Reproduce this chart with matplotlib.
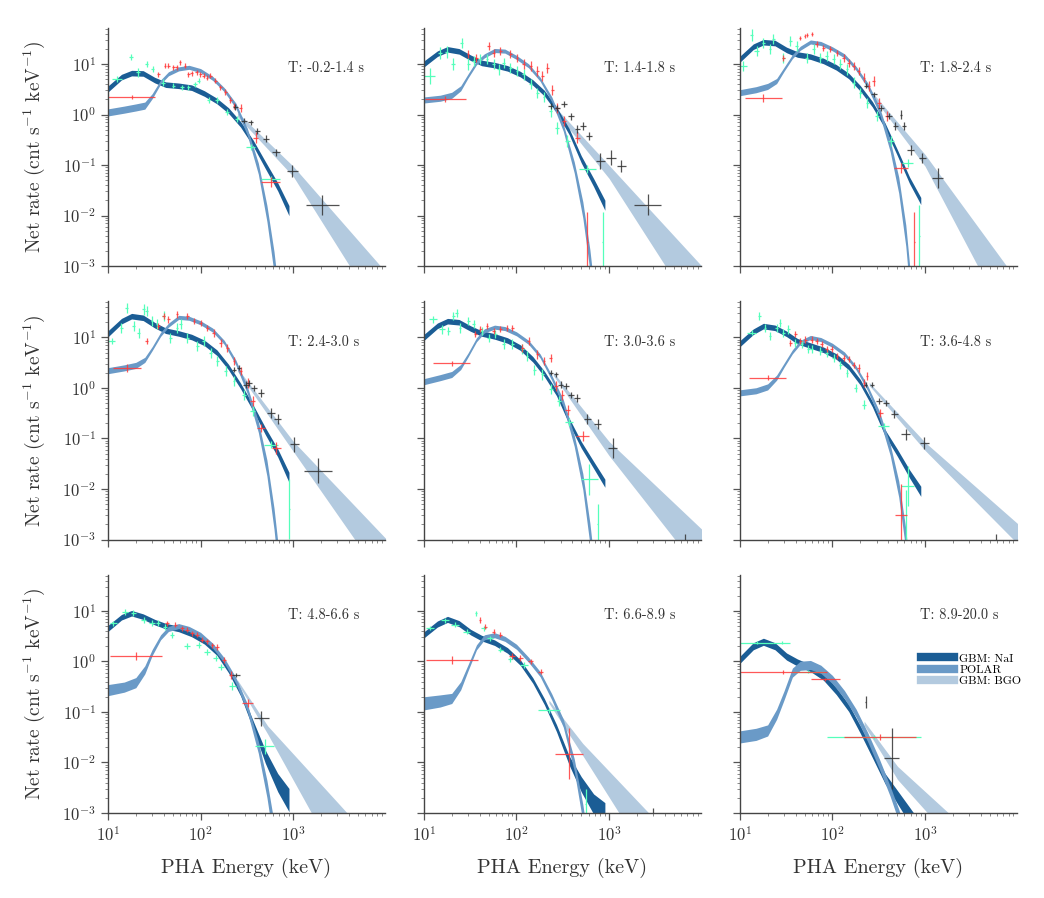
import numpy as np
import matplotlib
matplotlib.use('Agg')
import matplotlib.pyplot as plt
from matplotlib.lines import Line2D

plt.rcParams['font.family'] = 'serif'
plt.rcParams['font.serif'] = ['cmr10']
plt.rcParams['mathtext.fontset'] = 'cm'
plt.rcParams['axes.unicode_minus'] = False
plt.rcParams['axes.formatter.use_mathtext'] = True

# time intervals of the nine spectra
T_LABELS = ['T: -0.2-1.4 s', 'T: 1.4-1.8 s', 'T: 1.8-2.4 s',
            'T: 2.4-3.0 s', 'T: 3.0-3.6 s', 'T: 3.6-4.8 s',
            'T: 4.8-6.6 s', 'T: 6.6-8.9 s', 'T: 8.9-20.0 s']

# model bands: middle value (cnt/s/keV) and half width (dex)
E_NAI = [10, 14, 18, 24, 32, 42, 58, 80, 110, 150, 200, 270, 370, 500, 680, 900]
NAI_MID = [
    [3.2, 5.5, 6.6, 6.5, 4.8, 3.9, 3.7, 3.4, 2.6, 1.85, 1.2, 0.64, 0.27, 0.1, 0.037, 0.0125],
    [10, 16, 19.5, 17.8, 13.3, 10.5, 9.5, 8.2, 6.3, 4.3, 2.65, 1.25, 0.46, 0.13, 0.045, 0.016],
    [12.4, 22, 27, 26, 19, 15.4, 14, 11.5, 8.6, 5.8, 3.3, 1.6, 0.6, 0.18, 0.05, 0.0194],
    [11.8, 21, 26.4, 24.5, 17.5, 13.6, 12, 10.2, 7.8, 5.0, 2.6, 1.1, 0.4, 0.14, 0.052, 0.017],
    [10, 17, 21, 20, 15, 12, 10.5, 8.7, 6.3, 3.7, 1.9, 0.8, 0.22, 0.075, 0.03, 0.013],
    [7.5, 13, 16.8, 15.5, 11.8, 8.4, 6.9, 5.7, 4.2, 2.6, 1.3, 0.48, 0.13, 0.053, 0.02, 0.009],
    [4.5, 7.5, 9.0, 7.7, 6.0, 5.0, 4.4, 3.5, 2.5, 1.5, 0.68, 0.24, 0.055, 0.013, 0.004, 0.0018],
    [3.35, 5.5, 6.8, 5.6, 3.8, 2.9, 2.35, 1.65, 0.95, 0.42, 0.16, 0.048, 0.011, 0.0037, 0.0015, 0.0009],
    [1.07, 2.0, 2.45, 2.0, 1.25, 0.95, 0.74, 0.5, 0.26, 0.12, 0.045, 0.015, 0.0048, 0.0021, 0.0009, 0.0004],
]
NAI_HW = [
    [0.06, 0.055, 0.055, 0.055, 0.055, 0.055, 0.055, 0.055, 0.055, 0.055, 0.055, 0.055, 0.06, 0.07, 0.08, 0.1],
    [0.06, 0.055, 0.055, 0.055, 0.055, 0.055, 0.055, 0.055, 0.055, 0.055, 0.055, 0.055, 0.06, 0.07, 0.08, 0.1],
    [0.06, 0.055, 0.055, 0.055, 0.055, 0.055, 0.055, 0.055, 0.055, 0.055, 0.055, 0.055, 0.055, 0.06, 0.065, 0.07],
    [0.06, 0.055, 0.055, 0.055, 0.055, 0.055, 0.055, 0.055, 0.055, 0.055, 0.055, 0.055, 0.06, 0.07, 0.08, 0.1],
    [0.06, 0.055, 0.055, 0.055, 0.055, 0.055, 0.055, 0.055, 0.055, 0.055, 0.055, 0.055, 0.06, 0.065, 0.07, 0.08],
    [0.06, 0.055, 0.055, 0.055, 0.055, 0.055, 0.055, 0.055, 0.055, 0.055, 0.055, 0.055, 0.06, 0.07, 0.08, 0.1],
    [0.06, 0.055, 0.055, 0.055, 0.055, 0.055, 0.055, 0.055, 0.055, 0.055, 0.055, 0.06, 0.08, 0.13, 0.18, 0.23],
    [0.06, 0.06, 0.06, 0.06, 0.055, 0.055, 0.055, 0.055, 0.055, 0.055, 0.06, 0.07, 0.09, 0.15, 0.2, 0.25],
    [0.07, 0.07, 0.07, 0.07, 0.07, 0.07, 0.07, 0.07, 0.07, 0.07, 0.075, 0.08, 0.1, 0.13, 0.16, 0.2],
]

E_POL = [10, 15, 20, 25, 30, 37, 45, 58, 75, 100, 135, 180, 240, 320, 420, 520, 620, 720]
POL_MID = [
    [1.1, 1.25, 1.38, 1.5, 2.3, 4.4, 6.4, 8.0, 8.6, 7.4, 5.2, 3.1, 1.5, 0.45, 0.085, 0.011, 0.0012, 0.0001],
    [1.94, 2.1, 2.4, 3.3, 5.8, 10.6, 14.5, 18.5, 18, 13.5, 9.2, 5.0, 2.0, 0.55, 0.09, 0.013, 0.0013, 0.0001],
    [2.7, 3.1, 3.6, 4.6, 7.8, 14, 20.5, 27.3, 25.5, 20, 14.5, 8.2, 3.8, 1.25, 0.24, 0.04, 0.004, 0.0002],
    [2.2, 2.5, 2.8, 3.6, 6.0, 11.5, 17.5, 25, 24, 19.5, 14, 8.0, 3.2, 0.9, 0.17, 0.026, 0.0026, 0.0002],
    [1.33, 1.6, 1.85, 2.6, 4.5, 9.0, 13.5, 16, 15, 11.8, 8.0, 4.3, 1.6, 0.5, 0.09, 0.014, 0.0013, 0.0001],
    [0.8, 0.88, 1.05, 1.6, 2.8, 5.2, 8.0, 10, 9.1, 7.0, 4.7, 2.5, 1.0, 0.3, 0.06, 0.01, 0.001, 0.00005],
    [0.27, 0.31, 0.38, 0.68, 1.5, 3.0, 4.4, 5.0, 4.4, 3.35, 2.05, 1.05, 0.42, 0.12, 0.02, 0.003, 0.0004, 0.00003],
    [0.148, 0.165, 0.185, 0.33, 0.75, 1.9, 3.0, 3.3, 2.8, 1.95, 1.08, 0.56, 0.2, 0.06, 0.009, 0.001, 0.0001, 0.00001],
    [0.032, 0.036, 0.043, 0.09, 0.21, 0.6, 0.82, 0.85, 0.7, 0.44, 0.22, 0.095, 0.032, 0.0095, 0.0027, 0.0009, 0.0003, 0.0001],
]
POL_HW = [
    [0.07, 0.07, 0.07, 0.07, 0.05, 0.04, 0.04, 0.04, 0.04, 0.04, 0.04, 0.04, 0.05, 0.07, 0.11, 0.16, 0.21, 0.26],
    [0.06, 0.06, 0.06, 0.05, 0.04, 0.04, 0.04, 0.04, 0.04, 0.04, 0.04, 0.04, 0.05, 0.07, 0.11, 0.16, 0.21, 0.26],
    [0.06, 0.06, 0.06, 0.05, 0.04, 0.04, 0.04, 0.04, 0.04, 0.04, 0.04, 0.04, 0.05, 0.07, 0.11, 0.16, 0.21, 0.26],
    [0.06, 0.06, 0.06, 0.05, 0.04, 0.04, 0.04, 0.04, 0.04, 0.04, 0.04, 0.04, 0.05, 0.07, 0.11, 0.16, 0.21, 0.26],
    [0.06, 0.06, 0.06, 0.05, 0.04, 0.04, 0.04, 0.04, 0.04, 0.04, 0.04, 0.04, 0.05, 0.07, 0.11, 0.16, 0.21, 0.26],
    [0.06, 0.06, 0.06, 0.05, 0.04, 0.04, 0.04, 0.04, 0.04, 0.04, 0.04, 0.04, 0.05, 0.07, 0.11, 0.16, 0.21, 0.26],
    [0.11, 0.1, 0.1, 0.08, 0.06, 0.05, 0.05, 0.05, 0.05, 0.05, 0.05, 0.05, 0.06, 0.08, 0.12, 0.17, 0.22, 0.26],
    [0.13, 0.12, 0.1, 0.08, 0.06, 0.05, 0.05, 0.05, 0.05, 0.05, 0.05, 0.05, 0.06, 0.08, 0.12, 0.17, 0.22, 0.26],
    [0.12, 0.12, 0.11, 0.1, 0.09, 0.09, 0.09, 0.09, 0.08, 0.08, 0.08, 0.08, 0.09, 0.1, 0.1, 0.12, 0.14, 0.16],
]

BGO_E = [[250, 1000, 10000], [250, 1000, 10000], [250, 1000, 10000],
         [250, 1000, 10000], [250, 1000, 10000], [250, 1000, 10000],
         [250, 530, 4000], [224, 520, 3000], [220, 505, 2000]]
BGO_MID = [[1.0, 0.075, 0.000234], [1.4, 0.073, 0.000275], [3.0, 0.124, 0.000126],
           [2.3, 0.07, 0.00037], [1.9, 0.063, 0.00058], [1.2, 0.07, 0.0013],
           [0.4, 0.044, 0.000204], [0.16, 0.018, 0.00026], [0.06, 0.0062, 0.00048]]
BGO_HW = [[0.04, 0.1, 0.51], [0.04, 0.13, 0.56], [0.03, 0.116, 0.6],
          [0.03, 0.1, 0.45], [0.03, 0.14, 0.44], [0.03, 0.08, 0.2],
          [0.03, 0.08, 0.65], [0.03, 0.12, 0.49], [0.04, 0.13, 0.24]]

# data points: (energy keV, rate, x half width dex, y half width dex)
NAI_PTS = [
    [(12.5, 5.0, 0.05, 0.06), (17.6, 14.0, 0.02, 0.06), (21.2, 6.8, 0.02, 0.08), (26.1, 10, 0.02, 0.06),
     (30.3, 8.0, 0.02, 0.06), (39.6, 4.3, 0.02, 0.06), (51, 3.7, 0.02, 0.05), (62.7, 3.45, 0.02, 0.05),
     (74, 3.45, 0.02, 0.05), (87.5, 4.0, 0.02, 0.05), (95, 4.7, 0.015, 0.05), (122, 1.9, 0.02, 0.06),
     (150, 1.9, 0.02, 0.06), (193, 1.1, 0.02, 0.06), (248, 0.81, 0.025, 0.06), (347, 0.224, 0.05, 0.06),
     (571, 0.053, 0.1, 0.05)],
    [(11.6, 5.8, 0.06, 0.15), (14.9, 16.7, 0.02, 0.12), (17.6, 17.6, 0.02, 0.12), (20.8, 9.9, 0.02, 0.12),
     (25.7, 26, 0.015, 0.1), (30.3, 9.9, 0.015, 0.12), (34.4, 11.5, 0.015, 0.1), (40, 12.4, 0.015, 0.1),
     (48, 12.4, 0.015, 0.1), (56.6, 9.9, 0.015, 0.1), (64, 7.8, 0.015, 0.1), (73, 10.6, 0.015, 0.1),
     (86, 8.5, 0.015, 0.1), (101, 7.3, 0.015, 0.1), (120, 6.2, 0.015, 0.1), (142, 4.0, 0.015, 0.1),
     (167, 2.7, 0.015, 0.1), (198, 2.2, 0.015, 0.1), (234, 1.18, 0.015, 0.12), (276, 0.55, 0.02, 0.12),
     (354, 0.3, 0.03, 0.12), (584, 0.083, 0.09, 0.08), (850, 0.003, 0.005, 0.6)],
    [(10.9, 9.1, 0.04, 0.1), (13.4, 37, 0.015, 0.12), (15.2, 18, 0.03, 0.1), (17.9, 26.4, 0.015, 0.1),
     (21.2, 19.5, 0.015, 0.1), (23, 31, 0.015, 0.1), (29.5, 13.3, 0.015, 0.1), (35, 28.5, 0.015, 0.1),
     (41.3, 22.7, 0.015, 0.1), (53, 13.3, 0.015, 0.1), (62.6, 19.5, 0.015, 0.1), (74, 13.3, 0.015, 0.1),
     (87, 14.4, 0.015, 0.1), (103, 12.4, 0.015, 0.1), (122, 9.8, 0.015, 0.1), (144, 7.8, 0.015, 0.1),
     (170, 4.3, 0.015, 0.1), (201, 2.7, 0.015, 0.1), (238, 1.7, 0.015, 0.1), (305, 0.93, 0.02, 0.1),
     (427, 0.3, 0.03, 0.1), (650, 0.11, 0.06, 0.08), (870, 0.004, 0.005, 0.6)],
    [(11, 8.5, 0.04, 0.06), (14, 15.5, 0.02, 0.1), (16, 38.6, 0.015, 0.1), (18.9, 16.8, 0.015, 0.1),
     (21.4, 12.4, 0.015, 0.1), (24.2, 35.8, 0.015, 0.1), (26.3, 33.2, 0.015, 0.1), (29.9, 21, 0.015, 0.1),
     (33.8, 18.1, 0.015, 0.1), (40, 26.4, 0.015, 0.1), (47, 9.8, 0.015, 0.1), (55.7, 15.5, 0.015, 0.1),
     (60.7, 18.1, 0.015, 0.1), (71.6, 9.8, 0.015, 0.1), (91.8, 6.7, 0.015, 0.1), (108, 8.5, 0.015, 0.1),
     (128, 5.0, 0.015, 0.1), (151, 3.4, 0.015, 0.1), (187, 2.2, 0.015, 0.1), (230, 1.37, 0.015, 0.1),
     (294, 0.74, 0.02, 0.1), (365, 0.35, 0.03, 0.1), (576, 0.076, 0.08, 0.06), (910, 0.004, 0.005, 0.6)],
    [(12.6, 22.7, 0.04, 0.06), (15.6, 14.4, 0.03, 0.08), (18.4, 13.4, 0.015, 0.08), (20.8, 26.4, 0.015, 0.08),
     (22.6, 30.8, 0.015, 0.08), (24.6, 15.5, 0.015, 0.1), (30.3, 21, 0.015, 0.08), (34.4, 18.1, 0.015, 0.08),
     (42, 13.4, 0.015, 0.08), (50, 9.8, 0.015, 0.08), (59, 11.5, 0.015, 0.08), (73, 7.3, 0.015, 0.1),
     (90, 7.3, 0.015, 0.1), (115, 5.8, 0.015, 0.1), (130, 4.3, 0.015, 0.1), (155, 2.3, 0.015, 0.1),
     (190, 1.85, 0.015, 0.1), (234, 0.94, 0.02, 0.1), (287, 0.55, 0.02, 0.1), (370, 0.21, 0.04, 0.08),
     (610, 0.0155, 0.09, 0.3), (750, 0.002, 0.005, 0.4)],
    [(13.4, 12.4, 0.05, 0.05), (16.2, 26.4, 0.015, 0.08), (18.7, 15.5, 0.015, 0.08), (21.2, 10.6, 0.015, 0.08),
     (25, 15.5, 0.015, 0.08), (27.2, 19.5, 0.015, 0.08), (29.5, 12.4, 0.015, 0.08), (33.5, 14.4, 0.015, 0.08),
     (39.6, 7.8, 0.015, 0.08), (46.8, 7.3, 0.015, 0.08), (55, 5.8, 0.015, 0.08), (60, 5.8, 0.015, 0.08),
     (74, 5.35, 0.015, 0.08), (87, 5.0, 0.015, 0.08), (103, 3.95, 0.015, 0.08), (122, 2.9, 0.015, 0.08),
     (144, 2.0, 0.015, 0.08), (178, 1.0, 0.02, 0.08), (219, 0.47, 0.02, 0.08), (360, 0.18, 0.06, 0.06),
     (650, 0.0115, 0.07, 0.4), (620, 0.003, 0.005, 0.5)],
    [(11.4, 5.7, 0.04, 0.05), (15.3, 9.7, 0.03, 0.06), (18.8, 9.0, 0.03, 0.06), (24.2, 6.6, 0.03, 0.06),
     (29.8, 5.7, 0.03, 0.06), (35, 5.7, 0.02, 0.06), (41.6, 4.9, 0.02, 0.06), (49, 3.35, 0.02, 0.06),
     (71.6, 2.0, 0.03, 0.06), (95, 2.1, 0.03, 0.06), (118, 1.56, 0.03, 0.06), (145, 1.15, 0.03, 0.06),
     (165, 0.79, 0.03, 0.06), (220, 0.32, 0.04, 0.08), (490, 0.021, 0.1, 0.15)],
    [(11.6, 4.5, 0.04, 0.04), (16.9, 6.6, 0.04, 0.05), (21.7, 5.3, 0.04, 0.05), (29, 3.9, 0.04, 0.05),
     (36.7, 9.0, 0.01, 0.05), (44.2, 4.5, 0.03, 0.05), (52, 2.9, 0.03, 0.05), (67, 1.7, 0.03, 0.05),
     (86, 1.1, 0.03, 0.05), (120, 0.85, 0.04, 0.05), (224, 0.109, 0.12, 0.05), (560, 0.0015, 0.005, 0.3)],
    [(15.2, 2.36, 0.18, 0.03), (28.4, 2.36, 0.09, 0.03), (55, 0.63, 0.18, 0.03), (280, 0.032, 0.51, 0.04)],
]
POL_PTS = [
    [(18, 2.25, 0.25, 0.04), (35, 6.3, 0.015, 0.05), (41.2, 9.3, 0.015, 0.05), (44.8, 9.3, 0.015, 0.05),
     (51, 8.6, 0.015, 0.05), (55, 8.6, 0.015, 0.05), (60, 10.8, 0.015, 0.05), (68, 9.3, 0.015, 0.05),
     (74, 6.3, 0.015, 0.05), (80, 6.5, 0.015, 0.05), (91, 6.8, 0.015, 0.05), (99, 6.3, 0.015, 0.05),
     (108, 5.9, 0.015, 0.05), (117, 5.4, 0.015, 0.05), (127, 5.9, 0.015, 0.05), (144, 4.7, 0.015, 0.05),
     (163, 3.45, 0.015, 0.05), (185, 2.75, 0.015, 0.06), (210, 1.9, 0.015, 0.06), (229, 1.5, 0.015, 0.06),
     (270, 1.35, 0.02, 0.08), (392, 0.35, 0.03, 0.1), (571, 0.046, 0.1, 0.1)],
    [(17, 2.0, 0.22, 0.06), (30, 15.5, 0.015, 0.08), (37, 13.4, 0.015, 0.08), (50, 22.7, 0.015, 0.08),
     (57, 16.7, 0.015, 0.08), (67, 18, 0.015, 0.08), (86, 15.5, 0.015, 0.08), (101, 13.4, 0.015, 0.08),
     (120, 9.9, 0.015, 0.1), (142, 9.1, 0.015, 0.1), (167, 7.3, 0.015, 0.1), (190, 5.8, 0.015, 0.1),
     (216, 8.5, 0.015, 0.1), (244, 3.1, 0.015, 0.1), (276, 1.37, 0.02, 0.1), (327, 0.75, 0.02, 0.1),
     (455, 0.35, 0.03, 0.1), (584, 0.003, 0.003, 0.6)],
    [(18, 2.15, 0.2, 0.08), (29.5, 13.3, 0.015, 0.06), (45, 33, 0.01, 0.04), (50, 36, 0.01, 0.04),
     (53, 37, 0.01, 0.04), (60, 38.5, 0.01, 0.04), (68, 24.5, 0.015, 0.06), (80, 21, 0.015, 0.06),
     (95, 19.5, 0.015, 0.06), (112, 16.8, 0.015, 0.06), (133, 13.3, 0.015, 0.08), (150, 10.6, 0.015, 0.08),
     (170, 9.1, 0.015, 0.08), (193, 7.3, 0.015, 0.08), (219, 5.4, 0.015, 0.08), (247, 3.7, 0.015, 0.1),
     (280, 4.6, 0.015, 0.1), (320, 1.7, 0.02, 0.1), (392, 0.93, 0.02, 0.1), (550, 0.089, 0.08, 0.1),
     (765, 0.003, 0.003, 0.6)],
    [(16, 2.5, 0.15, 0.08), (26.3, 8.5, 0.015, 0.06), (35, 16.8, 0.015, 0.06), (40, 26.4, 0.015, 0.06),
     (45, 22.7, 0.015, 0.06), (55.7, 28.5, 0.015, 0.06), (71.6, 26.4, 0.015, 0.06), (85, 21, 0.015, 0.06),
     (100, 19.5, 0.015, 0.06), (118, 15.5, 0.015, 0.06), (139, 12.4, 0.015, 0.08), (165, 7.8, 0.015, 0.08),
     (194, 6.2, 0.015, 0.08), (230, 3.4, 0.015, 0.08), (270, 2.2, 0.02, 0.08), (322, 1.27, 0.02, 0.1),
     (365, 0.55, 0.03, 0.1), (450, 0.16, 0.04, 0.08), (656, 0.066, 0.05, 0.12)],
    [(20, 3.1, 0.2, 0.05), (35.8, 11.5, 0.015, 0.06), (40.6, 14.4, 0.015, 0.06), (48, 16.8, 0.015, 0.06),
     (56.6, 13.4, 0.015, 0.06), (67, 14.4, 0.015, 0.06), (79, 15.5, 0.015, 0.06), (90, 15.5, 0.015, 0.06),
     (115, 6.2, 0.015, 0.08), (135, 8.5, 0.015, 0.08), (167, 4.6, 0.015, 0.08), (198, 3.4, 0.015, 0.08),
     (234, 4.0, 0.015, 0.08), (266, 1.1, 0.02, 0.1), (313, 0.74, 0.02, 0.1), (356, 0.37, 0.03, 0.1),
     (519, 0.11, 0.07, 0.1)],
    [(20, 1.6, 0.2, 0.05), (35, 7.8, 0.015, 0.06), (39.6, 11.5, 0.015, 0.06), (45, 8.5, 0.015, 0.06),
     (50.8, 9.1, 0.015, 0.06), (60, 9.1, 0.015, 0.06), (68, 8.5, 0.015, 0.06), (77, 7.3, 0.015, 0.06),
     (87, 5.8, 0.015, 0.06), (98, 5.8, 0.015, 0.06), (112, 4.3, 0.015, 0.06), (133, 3.95, 0.015, 0.06),
     (150, 3.7, 0.015, 0.06), (170, 2.9, 0.015, 0.06), (193, 2.5, 0.015, 0.08), (219, 1.27, 0.015, 0.08),
     (237, 1.7, 0.015, 0.08), (330, 0.32, 0.03, 0.08), (550, 0.0031, 0.06, 0.6)],
    [(20, 1.28, 0.28, 0.08), (43.4, 5.7, 0.02, 0.05), (53.5, 5.3, 0.02, 0.05), (63, 4.5, 0.02, 0.05),
     (71.6, 4.2, 0.02, 0.05), (81, 3.6, 0.02, 0.05), (92, 3.35, 0.02, 0.05), (104, 2.7, 0.02, 0.05),
     (118, 2.5, 0.02, 0.05), (134, 2.1, 0.02, 0.05), (151, 1.97, 0.02, 0.06), (180, 1.07, 0.02, 0.06),
     (212, 0.54, 0.02, 0.08), (322, 0.15, 0.06, 0.08)],
    [(20, 1.07, 0.28, 0.08), (40, 6.6, 0.01, 0.06), (46, 4.9, 0.015, 0.05), (56.6, 3.9, 0.02, 0.05),
     (67, 3.35, 0.02, 0.05), (90, 1.3, 0.03, 0.06), (110, 1.16, 0.03, 0.06), (142, 1.0, 0.03, 0.05),
     (182, 0.63, 0.03, 0.05), (370, 0.015, 0.15, 0.5)],
    [(29.5, 0.63, 0.47, 0.04), (84, 0.44, 0.16, 0.03), (326, 0.032, 0.39, 0.06)],
]
BGO_PTS = [
    [(238, 1.43, 0.03, 0.06), (294, 0.75, 0.03, 0.05), (347, 0.70, 0.03, 0.05), (410, 0.48, 0.03, 0.06),
     (505, 0.33, 0.03, 0.07), (650, 0.18, 0.04, 0.07), (980, 0.077, 0.06, 0.12), (2070, 0.016, 0.18, 0.2)],
    [(234, 1.47, 0.03, 0.06), (276, 1.37, 0.03, 0.06), (327, 1.6, 0.03, 0.06), (386, 0.93, 0.03, 0.07),
     (455, 0.51, 0.03, 0.08), (520, 0.59, 0.03, 0.08), (610, 0.37, 0.03, 0.08), (800, 0.12, 0.05, 0.15),
     (1050, 0.14, 0.05, 0.15), (1350, 0.095, 0.05, 0.12), (2600, 0.0165, 0.15, 0.2)],
    [(229, 3.7, 0.02, 0.05), (280, 2.5, 0.03, 0.05), (333, 1.37, 0.03, 0.06), (410, 0.93, 0.03, 0.06),
     (480, 0.59, 0.03, 0.08), (550, 1.0, 0.01, 0.08), (595, 0.59, 0.02, 0.08), (700, 0.2, 0.04, 0.1),
     (935, 0.14, 0.04, 0.1), (1370, 0.056, 0.06, 0.2)],
    [(230, 2.3, 0.02, 0.05), (260, 2.5, 0.02, 0.05), (308, 1.17, 0.03, 0.06), (335, 1.27, 0.03, 0.06),
     (377, 1.0, 0.03, 0.06), (450, 0.8, 0.03, 0.08), (576, 0.32, 0.04, 0.1), (677, 0.24, 0.04, 0.1),
     (1030, 0.077, 0.05, 0.15), (1860, 0.023, 0.15, 0.25)],
    [(234, 2.0, 0.02, 0.05), (266, 1.85, 0.02, 0.05), (300, 1.17, 0.03, 0.06), (340, 1.1, 0.03, 0.06),
     (386, 0.74, 0.03, 0.06), (453, 0.64, 0.03, 0.08), (584, 0.24, 0.04, 0.1), (750, 0.19, 0.04, 0.1),
     (1090, 0.065, 0.05, 0.2), (6600, 0.0008, 0.005, 0.2)],
    [(228, 1.17, 0.02, 0.05), (268, 1.17, 0.02, 0.05), (320, 0.55, 0.03, 0.06), (377, 0.51, 0.03, 0.06),
     (465, 0.3, 0.04, 0.08), (620, 0.12, 0.05, 0.1), (980, 0.082, 0.05, 0.12), (5900, 0.0008, 0.005, 0.2)],
    [(240, 0.54, 0.04, 0.04), (450, 0.075, 0.08, 0.15)],
    [(2960, 0.0008, 0.005, 0.2)],
    [(229, 0.16, 0.005, 0.12), (437, 0.012, 0.08, 0.6)],
]

C_NAI = '#1b5d95'
C_POL = '#6a9ac7'
C_BGO = '#b3cadf'
C_NAI_PTS = '#55ffbb'
C_POL_PTS = '#ff3b3b'
C_BGO_PTS = '#333333'
TXT = '#333333'


def draw_band(ax, energies, mid, hw, color):
    mid = np.array(mid)
    hw = np.array(hw)
    ax.fill_between(energies, mid * 10 ** (-hw), mid * 10 ** hw, color=color, lw=0)


def draw_points(ax, pts, color, alpha=1.0):
    if not pts:
        return
    d = np.array(pts)
    x, y, dx, dy = d[:, 0], d[:, 1], d[:, 2], d[:, 3]
    xerr = [x - x * 10 ** (-dx), x * 10 ** dx - x]
    yerr = [y - y * 10 ** (-dy), y * 10 ** dy - y]
    ax.errorbar(x, y, xerr=xerr, yerr=yerr, fmt='none', ecolor=color,
                elinewidth=0.9, capsize=0, alpha=alpha)


fig, axes = plt.subplots(3, 3, figsize=(10.44, 8.98), dpi=100, sharex=True, sharey=True)
fig.subplots_adjust(left=0.1034, right=0.974, bottom=0.0947, top=0.969,
                    wspace=0.14, hspace=0.148)

for i, ax in enumerate(axes.flat):
    draw_band(ax, BGO_E[i], BGO_MID[i], BGO_HW[i], C_BGO)
    draw_band(ax, E_NAI, NAI_MID[i], NAI_HW[i], C_NAI)
    draw_band(ax, E_POL, POL_MID[i], POL_HW[i], C_POL)
    draw_points(ax, NAI_PTS[i], C_NAI_PTS)
    draw_points(ax, POL_PTS[i], C_POL_PTS, 0.85)
    draw_points(ax, BGO_PTS[i], C_BGO_PTS, 0.85)

    ax.set_xscale('log')
    ax.set_yscale('log')
    ax.set_xlim(10, 9800)
    ax.set_ylim(1e-3, 52)
    ax.text(0.65, 0.83, T_LABELS[i], transform=ax.transAxes, fontsize=10.3,
            va='center', ha='left', color=TXT)

    for s in ['top', 'right']:
        ax.spines[s].set_visible(False)
    for s in ['left', 'bottom']:
        ax.spines[s].set_color('#444444')
        ax.spines[s].set_linewidth(1.0)
    ax.tick_params(which='major', direction='out', length=5, width=0.9,
                   colors='#555555', labelcolor=TXT, labelsize=12)
    ax.tick_params(which='minor', direction='out', length=2.5, width=0.6,
                   colors='#777777')

for r in range(3):
    axes[r, 0].set_ylabel('Net rate (cnt s$^{-1}$ keV$^{-1}$)', fontsize=14,
                          color=TXT, labelpad=11)
for c in range(3):
    axes[2, c].set_xlabel('PHA Energy (keV)', fontsize=14.5, color=TXT, labelpad=10)

handles = [Line2D([], [], color=C_NAI, lw=6),
           Line2D([], [], color=C_POL, lw=6),
           Line2D([], [], color=C_BGO, lw=6)]
axes[2, 2].legend(handles, ['GBM: NaI', 'POLAR', 'GBM: BGO'], loc='upper left',
                  bbox_to_anchor=(0.63, 0.7), frameon=False, fontsize=8.5,
                  handlelength=2.8, labelspacing=0.1, borderaxespad=0.2,
                  handletextpad=0.4)

fig.savefig('out.png', dpi=100)
